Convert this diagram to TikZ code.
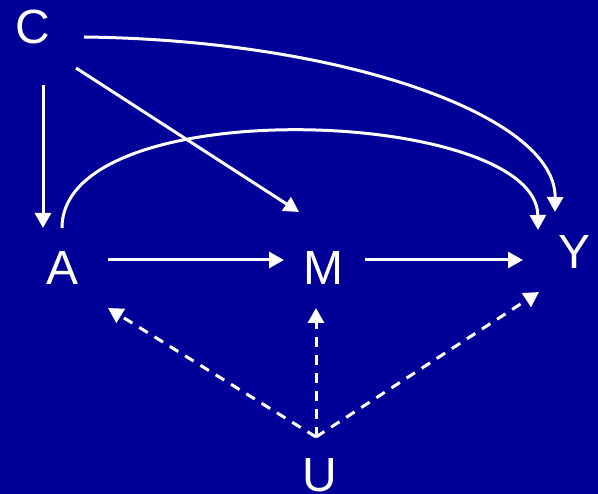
\documentclass[tikz,border=0pt]{standalone}
\usepackage{fontspec}
\setmainfont{Liberation Sans}
\usetikzlibrary{arrows.meta}
\definecolor{bgblue}{RGB}{0,0,153}
\begin{document}
\begin{tikzpicture}[x=1pt,y=-1pt,
  lbl/.style={text=white,inner sep=0pt,anchor=base,font=\fontsize{48}{48}\selectfont},
  conn/.style={draw=white,line width=3pt,-{Triangle[length=15pt,width=16pt]}},
  dconn/.style={conn,dash pattern=on 10pt off 8pt}]
\fill[bgblue] (0,0) rectangle (598,494);
\useasboundingbox (0,0) rectangle (598,494);
% nodes
\node[lbl] (C) at (32.5,44) {C};
\node[lbl] (A) at (63,285) {A};
\node[lbl] (M) at (323,285) {M};
\node[lbl] (Y) at (575,269) {Y};
\node[lbl] (U) at (320,492) {U};
% connector ends
\coordinate (CAs) at (43,85);   \coordinate (CAe) at (43,228);
\coordinate (CMs) at (76,68);   \coordinate (CMe) at (299,212);
\coordinate (CYs) at (84,37);   \coordinate (CYe) at (555,212);
\coordinate (AYs) at (62,228);  \coordinate (AYe) at (538,230);
\coordinate (AMs) at (108,260); \coordinate (AMe) at (284,260);
\coordinate (MYs) at (365,260); \coordinate (MYe) at (523,260);
\coordinate (Us) at (316,437);
\coordinate (UAe) at (108,308);
\coordinate (UMe) at (316,308);
\coordinate (UYe) at (539,292);
% solid connectors
\draw[conn] (CAs) -- (CAe);
\draw[conn] (CMs) -- (CMe);
\draw[conn] (CYs) .. controls (340,40) and (556,115) .. (CYe);
\draw[conn] (AYs) .. controls (62,90) and (537,108) .. (AYe);
\draw[conn] (AMs) -- (AMe);
\draw[conn] (MYs) -- (MYe);
% dashed connectors
\draw[dconn] (Us) -- (UAe);
\draw[dconn] (Us) -- (UMe);
\draw[dconn] (Us) -- (UYe);
\end{tikzpicture}
\end{document}
